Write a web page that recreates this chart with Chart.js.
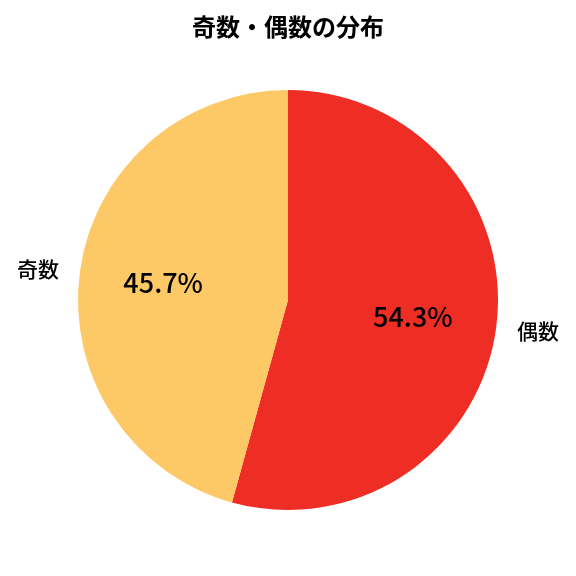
<!DOCTYPE html>
<html>
<head>
<meta charset="utf-8">
<script src="https://cdn.jsdelivr.net/npm/chart.js@4"></script>
<style>
  html, body { margin: 0; padding: 0; background: #fff; }
  #wrap { width: 576px; height: 576px; }
</style>
</head>
<body>
<div id="wrap"><canvas id="pieChart" width="576" height="576"></canvas></div>
<script>
const categories = ['偶数', '奇数'];
const percents = [54.3, 45.7];
const sliceColors = ['#EE2E24', '#FDC866'];

const FONT = '"Noto Sans CJK JP", "Noto Sans", sans-serif';

// ラベル描画 (外側にカテゴリ名、内側に%)
const pieLabels = {
    id: 'pieLabels',
    afterDatasetsDraw(chart) {
        const ctx = chart.ctx;
        const meta = chart.getDatasetMeta(0);
        ctx.save();
        ctx.fillStyle = '#000';
        meta.data.forEach((arc, i) => {
            const p = arc.getProps(['x', 'y', 'startAngle', 'endAngle', 'outerRadius'], true);
            const mid = (p.startAngle + p.endAngle) / 2;
            const cos = Math.cos(mid), sin = Math.sin(mid);

            // 内側 (%)
            ctx.font = '500 27px ' + FONT;
            ctx.textAlign = 'center';
            ctx.textBaseline = 'middle';
            const r1 = p.outerRadius * 0.6;
            ctx.fillText(percents[i].toFixed(1) + '%', p.x + r1 * cos, p.y + r1 * sin);

            // 外側 (カテゴリ)
            ctx.font = '500 21px ' + FONT;
            const r2 = p.outerRadius * 1.1;
            ctx.textAlign = cos >= 0 ? 'left' : 'right';
            ctx.fillText(categories[i], p.x + r2 * cos, p.y + r2 * sin);
        });
        ctx.restore();
    }
};

new Chart(document.getElementById('pieChart'), {
    type: 'pie',
    data: {
        labels: categories,
        datasets: [{
            data: percents,
            backgroundColor: sliceColors,
            borderWidth: 0
        }]
    },
    options: {
        responsive: false,
        animation: false,
        layout: { padding: { top: 0, bottom: 66, left: 78, right: 78 } },
        plugins: {
            legend: { display: false },
            tooltip: { enabled: false },
            title: {
                display: true,
                text: '奇数・偶数の分布',
                color: '#000',
                font: { family: FONT, size: 24, weight: 'bold' },
                padding: { top: 12.6, bottom: 48.6 }
            }
        }
    },
    plugins: [pieLabels]
});
</script>
</body>
</html>
